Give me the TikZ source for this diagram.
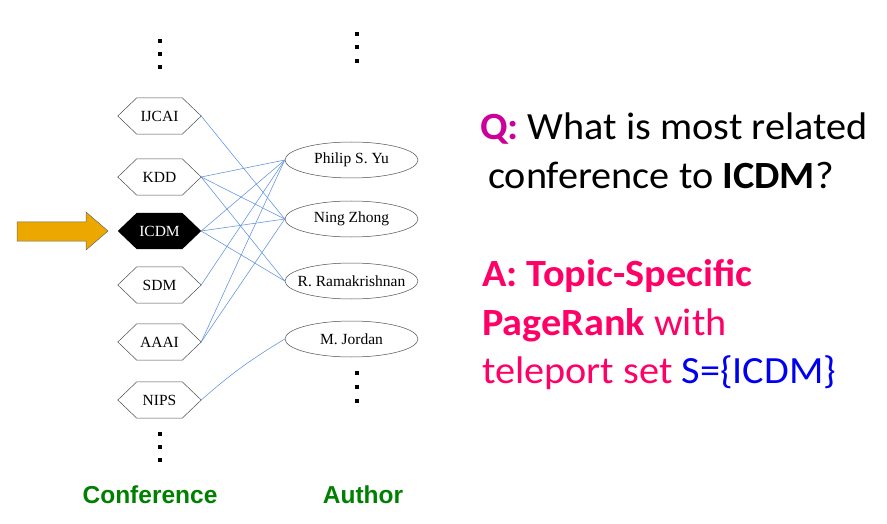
\documentclass[tikz,border=0pt]{standalone}
\usepackage{fontspec}
\usetikzlibrary{shapes.geometric}
\newfontfamily\serifF{Liberation Serif}
\newfontfamily\calF{Carlito}
\newfontfamily\arialF{Liberation Sans}
\definecolor{edgeblue}{RGB}{95,145,225}
\definecolor{qmag}{RGB}{204,0,153}
\definecolor{apink}{RGB}{255,0,102}
\definecolor{sblue}{RGB}{0,0,240}
\definecolor{labgreen}{RGB}{0,128,0}
\definecolor{arroworange}{RGB}{237,168,0}
\newcommand{\stretchtext}[1]{\scalebox{1.045}[1]{#1}}
\newcommand{\zerowd}[1]{\makebox[0pt]{#1}}
\tikzset{
  hexa/.style={minimum width=83pt, minimum height=36pt, inner sep=0pt,
    font=\serifF\fontsize{15.5}{18}\selectfont},
  hexline/.style={draw=black!70, line width=0.5pt},
  auth/.style={ellipse, draw=black!70, line width=0.5pt, minimum width=133pt,
    minimum height=36pt, inner sep=0pt, font=\serifF\fontsize{15.5}{18}\selectfont},
  link/.style={draw=edgeblue, line width=0.55pt},
  dotsq/.style={fill=black},
  qtext/.style={anchor=base west, inner sep=0pt, font=\calF\fontsize{38.5}{46}\selectfont},
  coltitle/.style={anchor=base, inner sep=0pt, text=labgreen, font=\arialF\bfseries\fontsize{24.5}{28}\selectfont}
}
\begin{document}
\begin{tikzpicture}[x=1pt,y=-1pt]
\useasboundingbox (0,0) rectangle (887,524);
% conference nodes
\node[hexa] (ijcai) at (159.5,116) {IJCAI};
\node[hexa] (kdd)   at (159.5,177) {KDD};
\node[hexa, text=white] (icdm)  at (159.5,231) {};
\node[hexa] (sdm)   at (159.5,285) {SDM};
\node[hexa] (aaai)  at (159.5,342) {AAAI};
\node[hexa] (nips)  at (159.5,400) {NIPS};
\foreach \n in {ijcai,kdd,sdm,aaai,nips}{
  \draw[hexline] (\n.west) -- ([xshift=19pt]\n.north west) -- ([xshift=-19pt]\n.north east)
    -- (\n.east) -- ([xshift=-19pt]\n.south east) -- ([xshift=19pt]\n.south west) -- cycle;
}
\fill[black] (icdm.west) -- ([xshift=19pt]icdm.north west) -- ([xshift=-19pt]icdm.north east)
    -- (icdm.east) -- ([xshift=-19pt]icdm.south east) -- ([xshift=19pt]icdm.south west) -- cycle;
\node[hexa, text=white] at (icdm.center) {ICDM};
% author nodes
\node[auth] (yu)   at (351.5,160) {\zerowd{Philip S. Yu}};
\node[auth] (zhong) at (351.5,219) {\zerowd{Ning Zhong}};
\node[auth] (ram)  at (351.5,281) {\zerowd{R. Ramakrishnan}};
\node[auth] (jordan) at (351.5,339) {\zerowd{M. Jordan}};
% links
\draw[link] (ijcai.east) -- (zhong.west);
\draw[link] (kdd.east) -- (yu.west);
\draw[link] (kdd.east) -- (zhong.west);
\draw[link] (kdd.east) -- (ram.west);
\draw[link] (icdm.east) -- (yu.west);
\draw[link] (icdm.east) -- (zhong.west);
\draw[link] (icdm.east) -- (ram.west);
\draw[link] (sdm.east) -- (yu.west);
\draw[link] (aaai.east) -- (yu.west);
\draw[link] (aaai.east) -- (zhong.west);
\draw[link] (nips.east) to[bend left=5] (jordan.west);
% vertical dots
\foreach \y in {41,54,67,434,447,460}{ \fill[dotsq] (158,\y-2) rectangle (162,\y+2); }
\foreach \y in {34,47,61,373,387,401}{ \fill[dotsq] (355,\y-2) rectangle (359,\y+2); }
% arrow
\draw[fill=arroworange, draw=black!60, line width=0.5pt]
  (17,222) -- (86,222) -- (86,212) -- (108,231) -- (86,250) -- (86,241) -- (17,241) -- cycle;
% column titles
\node[coltitle] (conf) at (150,503) {Conference};
\node[coltitle] (auth) at (363,503) {Author};
% question and answer
\node[qtext] (q1) at (480,140) {\stretchtext{{\color{qmag}\bfseries Q:} What is most related}};
\node[qtext] (q2) at (488,189) {\stretchtext{conference to \textbf{ICDM}?}};
\node[qtext, text=apink] (a1) at (482,287) {\stretchtext{\bfseries A: Topic-Specific}};
\node[qtext, text=apink] (a2) at (482,335) {\stretchtext{\textbf{PageRank} with}};
\node[qtext, text=apink] (a3) at (482,383) {\stretchtext{teleport set {\color{sblue}S=\{ICDM\}}}};
\end{tikzpicture}
\end{document}
